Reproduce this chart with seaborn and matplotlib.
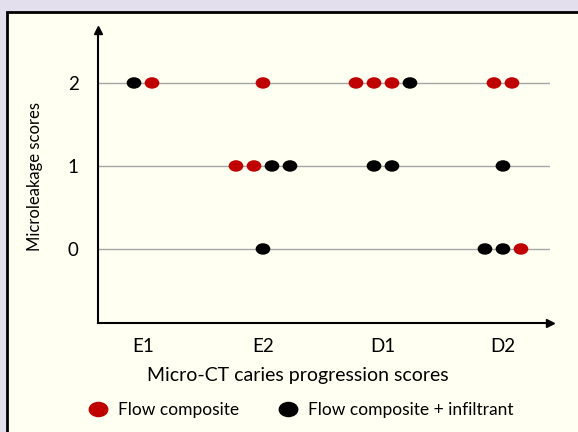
import numpy as np
import pandas as pd
import seaborn as sns
import matplotlib.pyplot as plt
from matplotlib.patches import Rectangle
from matplotlib.path import Path
from matplotlib.transforms import Affine2D

# categories on the x axis
categories = ["E1", "E2", "D1", "D2"]
scores = [0, 1, 2]

# one entry per specimen, listed left to right within each row
spec_category = ["E1", "E1",
                 "E2",
                 "E2", "E2", "E2", "E2",
                 "E2",
                 "D1", "D1", "D1", "D1",
                 "D1", "D1",
                 "D2", "D2",
                 "D2",
                 "D2", "D2", "D2"]
spec_score = [2, 2,
              2,
              1, 1, 1, 1,
              0,
              2, 2, 2, 2,
              1, 1,
              2, 2,
              1,
              0, 0, 0]
spec_group = ["Flow composite + infiltrant", "Flow composite",
              "Flow composite",
              "Flow composite", "Flow composite", "Flow composite + infiltrant", "Flow composite + infiltrant",
              "Flow composite + infiltrant",
              "Flow composite", "Flow composite", "Flow composite", "Flow composite + infiltrant",
              "Flow composite + infiltrant", "Flow composite + infiltrant",
              "Flow composite", "Flow composite",
              "Flow composite + infiltrant",
              "Flow composite + infiltrant", "Flow composite + infiltrant", "Flow composite"]

groups = ["Flow composite", "Flow composite + infiltrant"]
colors = {"Flow composite": "#c00000", "Flow composite + infiltrant": "#000000"}

df = pd.DataFrame({"category": spec_category, "score": spec_score, "group": spec_group})
df["cat_idx"] = df["category"].map({c: i for i, c in enumerate(categories)})
# spread dots sideways inside each (category, score) row, like a dot plot
step = 0.15
df["slot"] = df.groupby(["category", "score"]).cumcount()
df["n"] = df.groupby(["category", "score"])["score"].transform("size")
df["xpos"] = df["cat_idx"] + (df["slot"] - (df["n"] - 1) / 2) * step

plt.rcParams["font.family"] = ["Lato", "DejaVu Sans"]

fig = plt.figure(figsize=(5.78, 4.32), dpi=100)
fig.patch.set_facecolor("#e3dfec")
fig.add_artist(Rectangle((7 / 578, -0.1), 1.0, 1 - 12 / 432 + 0.1, transform=fig.transFigure,
                         facecolor="#fffff2", edgecolor="black", linewidth=2, zorder=-1))

ax = fig.add_axes([98 / 578, 1 - 323 / 432, 452 / 578, 293 / 432])
ax.set_facecolor("none")

ellipse = Path.unit_circle().transformed(Affine2D().scale(1.0, 0.78))

for s in scores:
    ax.axhline(s, color="#a6a6a6", linewidth=1, zorder=1)

sns.scatterplot(data=df, x="xpos", y="score", hue="group", hue_order=groups,
                palette=colors, marker=ellipse, s=112, linewidth=0, ax=ax, zorder=3)

ax.set_xlim(-0.375, 3.392)
ax.set_ylim(-0.892, 2.638)
ax.set_xticks(range(len(categories)))
ax.set_xticklabels(categories)
ax.set_yticks(scores)
ax.tick_params(length=0, labelsize=13.5)
ax.tick_params(axis="x", pad=11)
ax.tick_params(axis="y", pad=14)

for side in ["top", "right"]:
    ax.spines[side].set_visible(False)
for side in ["left", "bottom"]:
    ax.spines[side].set_linewidth(1.5)
    ax.spines[side].set_color("black")

# arrow heads at the axis ends
ax.plot(1, 0, ">", color="black", markersize=6, transform=ax.transAxes, clip_on=False)
ax.plot(0, 1, "^", color="black", markersize=6, transform=ax.transAxes, clip_on=False)

ax.set_xlabel("Micro-CT caries progression scores", fontsize=14)
ax.xaxis.set_label_coords(0.442, -0.15)
ax.set_ylabel("Microleakage scores", fontsize=12, labelpad=18)

sns.move_legend(ax, "center", bbox_to_anchor=(0.514, 1 - 410 / 432), bbox_transform=fig.transFigure,
                ncol=2, frameon=False, title=None, fontsize=12.5, markerscale=1.35,
                handletextpad=0.15, columnspacing=1.85)

fig.savefig("out.png", dpi=100, facecolor=fig.get_facecolor())
